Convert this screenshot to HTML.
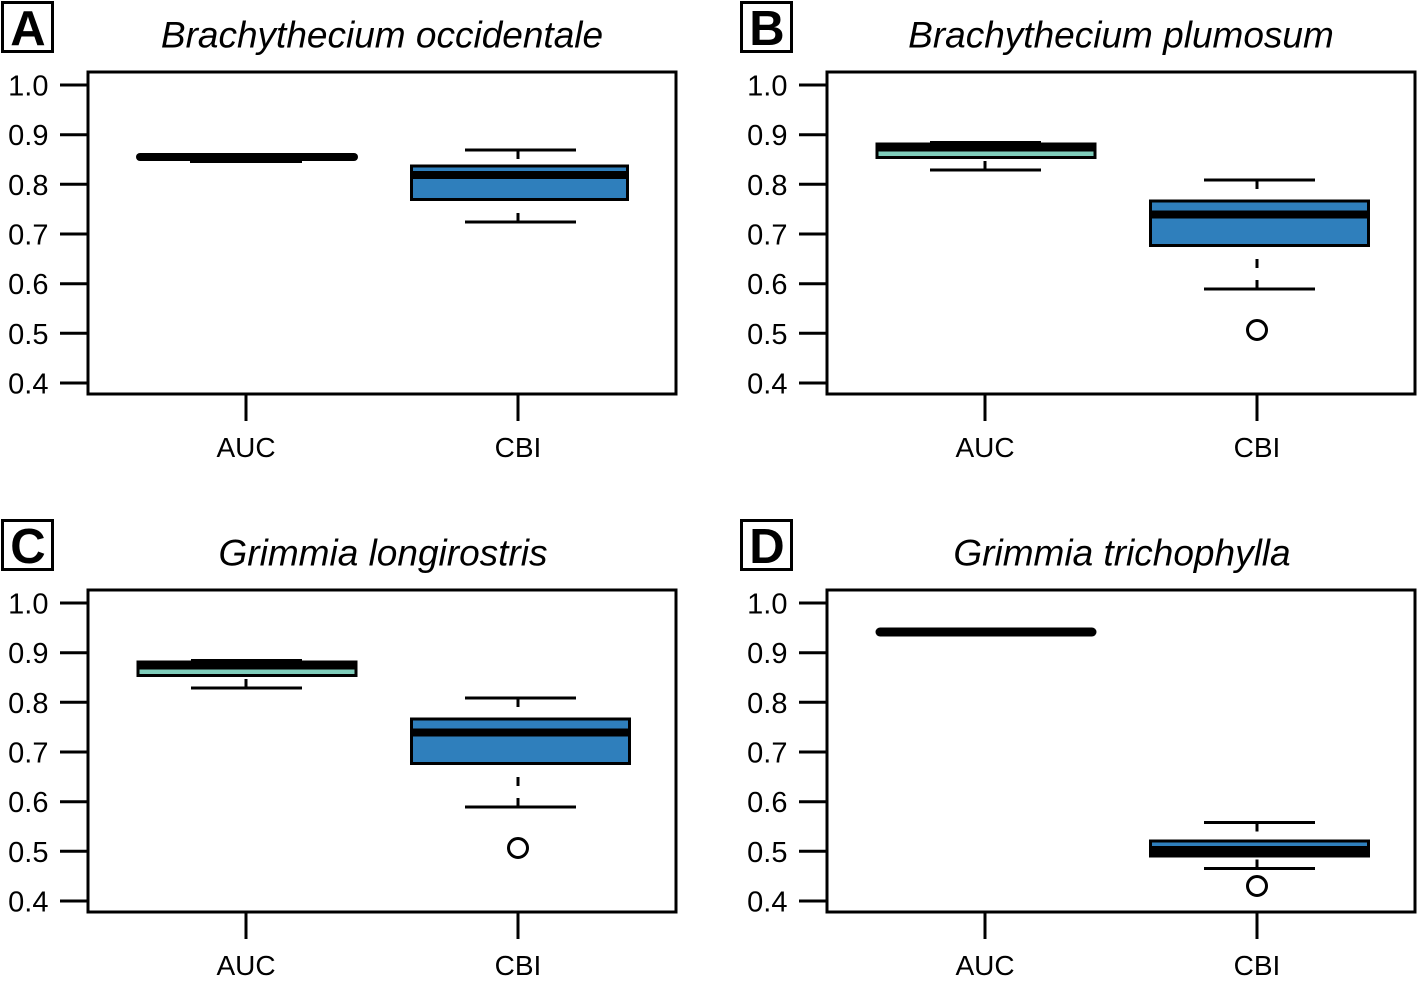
<!DOCTYPE html>
<html><head><meta charset="utf-8"><style>
html,body{margin:0;padding:0;background:#fff;}
svg{display:block;}
text{font-family:"Liberation Sans",Arial,sans-serif;fill:#000;}
.tl{font-size:29px;text-anchor:end;}
.xl{font-size:28px;text-anchor:middle;}
.tt{font-size:37px;font-style:italic;text-anchor:middle;}
.lb{font-size:49px;font-weight:bold;text-anchor:middle;}
</style></head><body>
<svg width="1417" height="985" viewBox="0 0 1417 985" xmlns="http://www.w3.org/2000/svg">
<!-- ============ PANEL A ============ -->
<g transform="translate(0,0)">
<rect x="2.5" y="2.5" width="50" height="49" fill="none" stroke="#000" stroke-width="3"/>
<text class="lb" x="28" y="45">A</text>
<text class="tt" x="382" y="47.5">Brachythecium occidentale</text>
<rect x="88" y="72" width="588" height="322" fill="none" stroke="#000" stroke-width="3"/>
<g stroke="#000" stroke-width="3">
<line x1="60" y1="85" x2="88" y2="85"/><line x1="60" y1="134.7" x2="88" y2="134.7"/><line x1="60" y1="184.3" x2="88" y2="184.3"/><line x1="60" y1="234" x2="88" y2="234"/><line x1="60" y1="283.7" x2="88" y2="283.7"/><line x1="60" y1="333.3" x2="88" y2="333.3"/><line x1="60" y1="383" x2="88" y2="383"/>
<line x1="246" y1="394" x2="246" y2="421"/><line x1="518" y1="394" x2="518" y2="421"/>
</g>
<text class="tl" x="48.5" y="95.5">1.0</text><text class="tl" x="48.5" y="145.2">0.9</text><text class="tl" x="48.5" y="194.8">0.8</text><text class="tl" x="48.5" y="244.5">0.7</text><text class="tl" x="48.5" y="294.2">0.6</text><text class="tl" x="48.5" y="343.8">0.5</text><text class="tl" x="48.5" y="393.5">0.4</text>
<text class="xl" x="246" y="457">AUC</text><text class="xl" x="518" y="457">CBI</text>
<!-- AUC -->
<line x1="140" y1="157" x2="354" y2="157" stroke="#000" stroke-width="8" stroke-linecap="round"/>
<rect x="190" y="153" width="112" height="10" fill="#000"/>
<!-- CBI -->
<g stroke="#000" stroke-width="3">
<line x1="518" y1="150" x2="518" y2="165" stroke-dasharray="9 12"/>
<line x1="518" y1="222" x2="518" y2="200" stroke-dasharray="9 12"/>
<line x1="465" y1="150" x2="576" y2="150"/>
<line x1="465" y1="222" x2="576" y2="222"/>
<rect x="411.5" y="166" width="216" height="33.5" fill="#2f7fbc"/>
</g>
<line x1="411" y1="175" x2="628" y2="175" stroke="#000" stroke-width="8"/>
</g>

<!-- ============ PANEL B ============ -->
<g transform="translate(739,0)">
<rect x="2.5" y="2.5" width="50" height="49" fill="none" stroke="#000" stroke-width="3"/>
<text class="lb" x="28" y="45">B</text>
<text class="tt" x="382" y="47.5">Brachythecium plumosum</text>
<rect x="88" y="72" width="588" height="322" fill="none" stroke="#000" stroke-width="3"/>
<g stroke="#000" stroke-width="3">
<line x1="60" y1="85" x2="88" y2="85"/><line x1="60" y1="134.7" x2="88" y2="134.7"/><line x1="60" y1="184.3" x2="88" y2="184.3"/><line x1="60" y1="234" x2="88" y2="234"/><line x1="60" y1="283.7" x2="88" y2="283.7"/><line x1="60" y1="333.3" x2="88" y2="333.3"/><line x1="60" y1="383" x2="88" y2="383"/>
<line x1="246" y1="394" x2="246" y2="421"/><line x1="518" y1="394" x2="518" y2="421"/>
</g>
<text class="tl" x="48.5" y="95.5">1.0</text><text class="tl" x="48.5" y="145.2">0.9</text><text class="tl" x="48.5" y="194.8">0.8</text><text class="tl" x="48.5" y="244.5">0.7</text><text class="tl" x="48.5" y="294.2">0.6</text><text class="tl" x="48.5" y="343.8">0.5</text><text class="tl" x="48.5" y="393.5">0.4</text>
<text class="xl" x="246" y="457">AUC</text><text class="xl" x="518" y="457">CBI</text>
<!-- AUC -->
<g stroke="#000" stroke-width="3">
<line x1="246" y1="170" x2="246" y2="158" stroke-dasharray="9 12"/>
<line x1="191" y1="170" x2="302" y2="170"/>
<line x1="191" y1="142.5" x2="302" y2="142.5"/>
<rect x="138" y="144" width="218" height="13.5" fill="#7fcdbb"/>
</g>
<line x1="137" y1="147.5" x2="357" y2="147.5" stroke="#000" stroke-width="8"/>
<!-- CBI -->
<g stroke="#000" stroke-width="3">
<line x1="518" y1="180" x2="518" y2="200" stroke-dasharray="9 12"/>
<line x1="518" y1="289" x2="518" y2="246" stroke-dasharray="9 12"/>
<line x1="465" y1="180" x2="576" y2="180"/>
<line x1="465" y1="289" x2="576" y2="289"/>
<rect x="411.5" y="201" width="218" height="44.5" fill="#2f7fbc"/>
<circle cx="518" cy="330" r="9.5" fill="none"/>
</g>
<line x1="411" y1="214.5" x2="630" y2="214.5" stroke="#000" stroke-width="8"/>
</g>

<!-- ============ PANEL C ============ -->
<g transform="translate(0,518)">
<rect x="2.5" y="2.5" width="50" height="49" fill="none" stroke="#000" stroke-width="3"/>
<text class="lb" x="28" y="45">C</text>
<text class="tt" x="383" y="47.5">Grimmia longirostris</text>
<rect x="88" y="72" width="588" height="322" fill="none" stroke="#000" stroke-width="3"/>
<g stroke="#000" stroke-width="3">
<line x1="60" y1="85" x2="88" y2="85"/><line x1="60" y1="134.7" x2="88" y2="134.7"/><line x1="60" y1="184.3" x2="88" y2="184.3"/><line x1="60" y1="234" x2="88" y2="234"/><line x1="60" y1="283.7" x2="88" y2="283.7"/><line x1="60" y1="333.3" x2="88" y2="333.3"/><line x1="60" y1="383" x2="88" y2="383"/>
<line x1="246" y1="394" x2="246" y2="421"/><line x1="518" y1="394" x2="518" y2="421"/>
</g>
<text class="tl" x="48.5" y="95.5">1.0</text><text class="tl" x="48.5" y="145.2">0.9</text><text class="tl" x="48.5" y="194.8">0.8</text><text class="tl" x="48.5" y="244.5">0.7</text><text class="tl" x="48.5" y="294.2">0.6</text><text class="tl" x="48.5" y="343.8">0.5</text><text class="tl" x="48.5" y="393.5">0.4</text>
<text class="xl" x="246" y="457">AUC</text><text class="xl" x="518" y="457">CBI</text>
<!-- AUC -->
<g stroke="#000" stroke-width="3">
<line x1="246" y1="170" x2="246" y2="158" stroke-dasharray="9 12"/>
<line x1="191" y1="170" x2="302" y2="170"/>
<line x1="191" y1="142.5" x2="302" y2="142.5"/>
<rect x="138" y="144" width="218" height="13.5" fill="#7fcdbb"/>
</g>
<line x1="137" y1="147.5" x2="357" y2="147.5" stroke="#000" stroke-width="8"/>
<!-- CBI -->
<g stroke="#000" stroke-width="3">
<line x1="518" y1="180" x2="518" y2="200" stroke-dasharray="9 12"/>
<line x1="518" y1="289" x2="518" y2="246" stroke-dasharray="9 12"/>
<line x1="465" y1="180" x2="576" y2="180"/>
<line x1="465" y1="289" x2="576" y2="289"/>
<rect x="411.5" y="201" width="218" height="44.5" fill="#2f7fbc"/>
<circle cx="518" cy="330" r="9.5" fill="none"/>
</g>
<line x1="411" y1="214.5" x2="630" y2="214.5" stroke="#000" stroke-width="8"/>
</g>

<!-- ============ PANEL D ============ -->
<g transform="translate(739,518)">
<rect x="2.5" y="2.5" width="50" height="49" fill="none" stroke="#000" stroke-width="3"/>
<text class="lb" x="28" y="45">D</text>
<text class="tt" x="383" y="47.5">Grimmia trichophylla</text>
<rect x="88" y="72" width="588" height="322" fill="none" stroke="#000" stroke-width="3"/>
<g stroke="#000" stroke-width="3">
<line x1="60" y1="85" x2="88" y2="85"/><line x1="60" y1="134.7" x2="88" y2="134.7"/><line x1="60" y1="184.3" x2="88" y2="184.3"/><line x1="60" y1="234" x2="88" y2="234"/><line x1="60" y1="283.7" x2="88" y2="283.7"/><line x1="60" y1="333.3" x2="88" y2="333.3"/><line x1="60" y1="383" x2="88" y2="383"/>
<line x1="246" y1="394" x2="246" y2="421"/><line x1="518" y1="394" x2="518" y2="421"/>
</g>
<text class="tl" x="48.5" y="95.5">1.0</text><text class="tl" x="48.5" y="145.2">0.9</text><text class="tl" x="48.5" y="194.8">0.8</text><text class="tl" x="48.5" y="244.5">0.7</text><text class="tl" x="48.5" y="294.2">0.6</text><text class="tl" x="48.5" y="343.8">0.5</text><text class="tl" x="48.5" y="393.5">0.4</text>
<text class="xl" x="246" y="457">AUC</text><text class="xl" x="518" y="457">CBI</text>
<!-- AUC -->
<line x1="141" y1="114" x2="353" y2="114" stroke="#000" stroke-width="9" stroke-linecap="round"/>
<!-- CBI -->
<g stroke="#000" stroke-width="3">
<line x1="518" y1="304.5" x2="518" y2="322" stroke-dasharray="9 12"/>
<line x1="518" y1="350.5" x2="518" y2="339" stroke-dasharray="9 12"/>
<line x1="465" y1="304.5" x2="576" y2="304.5"/>
<line x1="465" y1="350.5" x2="576" y2="350.5"/>
<rect x="411.5" y="323" width="218" height="15" fill="#2f7fbc"/>
<circle cx="518" cy="368" r="9.5" fill="none"/>
</g>
<rect x="410" y="328" width="221" height="11.5" fill="#000"/>
</g>
</svg>
</body></html>
